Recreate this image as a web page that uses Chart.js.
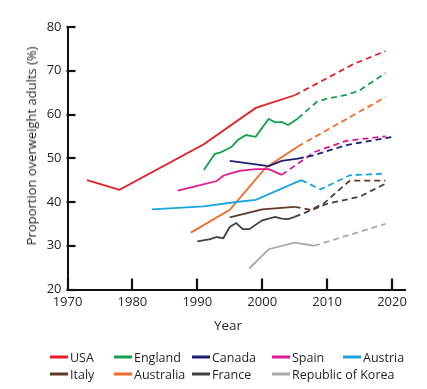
<!DOCTYPE html>
<html>
<head>
<meta charset="utf-8">
<script src="https://cdn.jsdelivr.net/npm/chart.js@4"></script>
<style>
  body { margin: 0; background: #fff; font-family: "Open Sans", sans-serif; color: #231f20; }
  #wrap { position: relative; width: 427px; height: 389px; }
  #chart { position: absolute; left: 0; top: 0; }
  .ytitle { position: absolute; left: 31px; top: 146px; transform: translate(-50%, -50%) rotate(-90deg); font-size: 13px; white-space: nowrap; }
  .xtitle { position: absolute; left: 228px; top: 325px; transform: translate(-50%, -50%); font-size: 13.5px; }
  .legend { position: absolute; left: 0; top: 0; font-size: 12.5px; }
  .item { position: absolute; white-space: nowrap; transform: translateY(-50%); }
  .item span { display: inline-block; width: 18px; height: 2.5px; vertical-align: middle; margin-right: 2px; position: relative; top: -1px; }
</style>
</head>
<body>
<div id="wrap">
  <canvas id="chart" width="427" height="389"></canvas>
  <div class="ytitle">Proportion overweight adults (%)</div>
  <div class="xtitle">Year</div>
  <div class="legend" id="legend"></div>
</div>
<script>
// observed [year, %] and projected (dashed) values
var usa = [[1973, 45], [1978, 42.8], [1991, 53.2], [1999, 61.5], [2005, 64.4]];
var usaProj = [[2005, 64.4], [2010, 68.3], [2014, 71.5], [2019, 74.5]];
var england = [[1991, 47.3], [1992, 49.5], [1992.7, 51], [1993.5, 51.3], [1994.5, 52], [1995.3, 52.6], [1996.2, 54.1],
    [1997.5, 55.3], [1999, 54.9], [2000, 57], [2001, 59], [2002, 58.2], [2003, 58.3], [2004, 57.6], [2005.5, 59.1]];
var englandProj = [[2005.5, 59.1], [2008.5, 63], [2010, 63.6], [2013, 64.5], [2015, 65.5], [2019, 69.5]];
var canada = [[1995, 49.4], [2001, 48.2], [2003, 49.4], [2005.5, 49.9]];
var canadaProj = [[2005.5, 49.9], [2008, 50.7], [2013, 53], [2020.5, 55]];
var spain = [[1987, 42.6], [1993, 44.8], [1994, 46], [1995, 46.5], [1996.5, 47.1], [1999, 47.5], [2001, 47.5], [2003, 46.2]];
var spainProj = [[2003, 46.2], [2008, 51.4], [2013, 54], [2019, 55]];
var austria = [[1983, 38.3], [1991, 39], [1996, 40], [1999, 40.5], [2006, 45]];
var austriaProj = [[2006, 45], [2009, 42.9], [2013.5, 46.1], [2019, 46.5]];
var italy = [[1995, 36.5], [2000, 38.3], [2005, 38.9]];
var italyProj = [[2005, 38.9], [2007.5, 38.2], [2009.5, 39.7], [2013.5, 44.9], [2019, 44.9]];
var australia = [[1989, 33], [1995, 38.2], [2000.5, 47.8], [2005.5, 52.7]];
var australiaProj = [[2005.5, 52.7], [2019, 64]];
var france = [[1990, 31], [1992, 31.5], [1993, 32], [1994, 31.7], [1995, 34.3], [1996, 35.2], [1997, 33.8], [1998, 33.8],
    [2000, 35.8], [2002, 36.6], [2003, 36.2], [2004, 36.1], [2005, 36.6]];
var franceProj = [[2005, 36.6], [2010, 39.6], [2015, 41.2], [2019, 44.2]];
var korea = [[1998, 24.8], [2001, 29.2], [2005, 30.7], [2008, 30]];
var koreaProj = [[2008, 30], [2019, 35]];

var xTicks = [1970, 1980, 1990, 2000, 2010, 2020];
var yTicks = [20, 30, 40, 50, 60, 70, 80];

var series = [
    { name: 'USA', obs: usa, proj: usaProj, color: '#e31e26' },
    { name: 'England', obs: england, proj: englandProj, color: '#16a04a' },
    { name: 'Canada', obs: canada, proj: canadaProj, color: '#1d1f73' },
    { name: 'Spain', obs: spain, proj: spainProj, color: '#e2188f' },
    { name: 'Austria', obs: austria, proj: austriaProj, color: '#1aa5df' },
    { name: 'Italy', obs: italy, proj: italyProj, color: '#5c3b28' },
    { name: 'Australia', obs: australia, proj: australiaProj, color: '#f26a2a' },
    { name: 'France', obs: france, proj: franceProj, color: '#414042' },
    { name: 'Republic of Korea', obs: korea, proj: koreaProj, color: '#a7a9ac' }
];

var datasets = [];
series.forEach(function(s) {
    datasets.push({ label: s.name, data: s.obs, borderColor: s.color, borderWidth: 1.8, pointRadius: 0, fill: false });
    datasets.push({ label: s.name + ' projected', data: s.proj, borderColor: s.color, borderWidth: 1.8,
        borderDash: [6, 4], pointRadius: 0, fill: false });
});

// tick marks pointing into the plot, placed with the scales
var innerTicks = {
    id: 'innerTicks',
    afterDraw: function(chart) {
        var ctx = chart.ctx;
        var xs = chart.scales.x, ys = chart.scales.y, area = chart.chartArea;
        ctx.save();
        ctx.lineWidth = 2.2;
        ctx.strokeStyle = '#111';
        xTicks.forEach(function(v) {
            var px = Math.round(xs.getPixelForValue(v));
            ctx.beginPath();
            ctx.moveTo(px, area.bottom + 1);
            ctx.lineTo(px, area.bottom - 11);
            ctx.stroke();
        });
        yTicks.forEach(function(v) {
            var py = Math.round(ys.getPixelForValue(v));
            ctx.beginPath();
            ctx.moveTo(area.left - 1, py);
            ctx.lineTo(area.left + 8, py);
            ctx.stroke();
        });
        ctx.restore();
    }
};

var tickFont = { family: 'Open Sans', size: 13 };

new Chart(document.getElementById('chart'), {
    type: 'line',
    data: { datasets: datasets },
    options: {
        responsive: false,
        animation: false,
        layout: { padding: { top: 27, right: 22, left: 0, bottom: 0 } },
        plugins: { legend: { display: false }, tooltip: { enabled: false } },
        scales: {
            x: {
                type: 'linear', min: 1970, max: 2022,
                afterFit: function(s) { s.height = 99.5; },
                afterBuildTicks: function(s) { s.ticks = xTicks.map(function(v) { return { value: v }; }); },
                ticks: { font: tickFont, color: '#231f20', padding: 5, maxRotation: 0,
                    callback: function(v) { return String(v); } },
                grid: { display: false, drawTicks: false },
                border: { display: true, color: '#111', width: 2 }
            },
            y: {
                min: 20, max: 80,
                afterFit: function(s) { s.width = 67.5; },
                afterBuildTicks: function(s) { s.ticks = yTicks.map(function(v) { return { value: v }; }); },
                ticks: { font: tickFont, color: '#231f20', padding: 6 },
                grid: { display: false, drawTicks: false },
                border: { display: true, color: '#111', width: 2 }
            }
        }
    },
    plugins: [innerTicks]
});

// legend laid out in a grid like the original
var cols = [50, 114, 192, 272, 343];
var rows = [357, 374];
var legend = document.getElementById('legend');
series.forEach(function(s, i) {
    var el = document.createElement('div');
    el.className = 'item';
    el.style.left = cols[i % 5] + 'px';
    el.style.top = rows[Math.floor(i / 5)] + 'px';
    el.innerHTML = '<span style="background:' + s.color + '"></span>' + s.name;
    legend.appendChild(el);
});
</script>
</body>
</html>
